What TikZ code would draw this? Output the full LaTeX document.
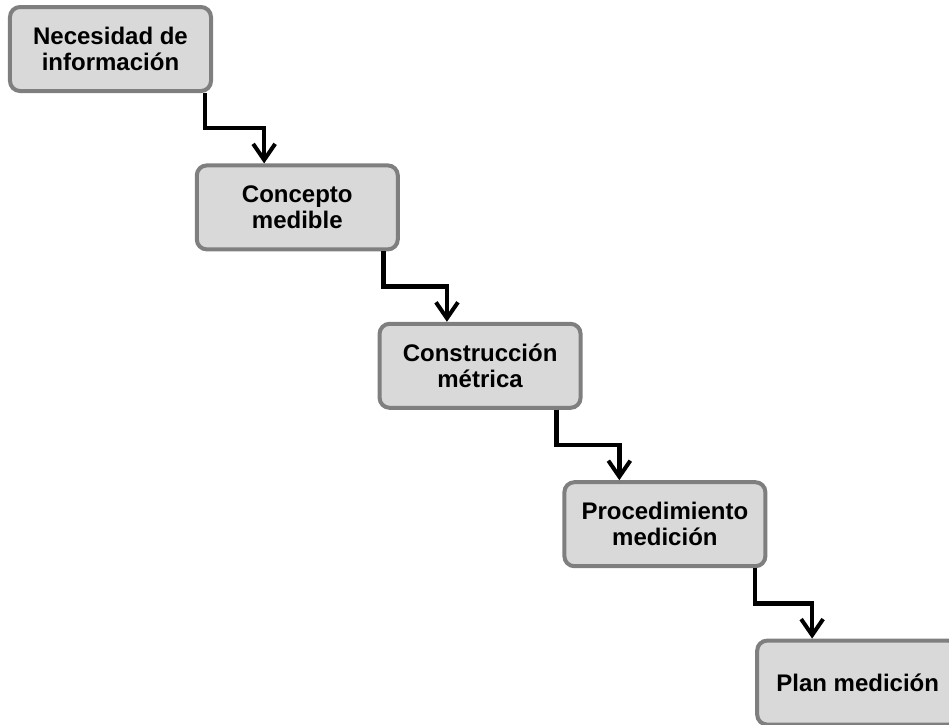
\documentclass[tikz,border=0pt]{standalone}
\usepackage{fontspec}
\setmainfont{Liberation Sans}
\usetikzlibrary{arrows.meta,calc}
\definecolor{boxfill}{HTML}{D9D9D9}
\definecolor{boxline}{HTML}{7F7F7F}

\begin{document}
\begin{tikzpicture}[
   x=0.5pt,y=-0.5pt,
   font=\bfseries\fontsize{12}{13}\selectfont,
   every matrix/.style={ampersand replacement=\&,column sep=-9.1pt,row sep=35.2pt,inner sep=0pt},
   state/.style={draw=boxline,line width=2pt,fill=boxfill,rounded corners=5pt,
      minimum width=100.5pt,minimum height=42pt,align=center,inner sep=0pt},
   link/.style={-{Straight Barb[length=8pt,width=11pt,line width=2pt]},line width=2.2pt,
      to path={|- ($(\tikztostart)!0.5!(\tikztotarget)$) -| (\tikztotarget)}}]
\clip (0,0) rectangle (949,724);
\matrix[matrix anchor=need.center] at (110.5,49) {
\node[state] (need) {Necesidad de\\información};\&\&[-2pt]\&[-1pt]\&[3pt]\\
\&\node[state] (concept) {Concepto\\medible};\&\&\&\\
\&\&\node[state] (metric) {Construcción\\métrica};\&\&\\
\&\&\&\node[state] (proc) {Procedimiento\\medición};\&\\
\&\&\&\&\node[state] (plan) {Plan medición};\\
};
\draw[link] (need.335) to (concept.127);
\draw[link] (concept.333) to (metric.127);
\draw[link] (metric.330) to (proc.136);
\draw[link] (proc.334) to (plan.136);
\end{tikzpicture}
\end{document}
